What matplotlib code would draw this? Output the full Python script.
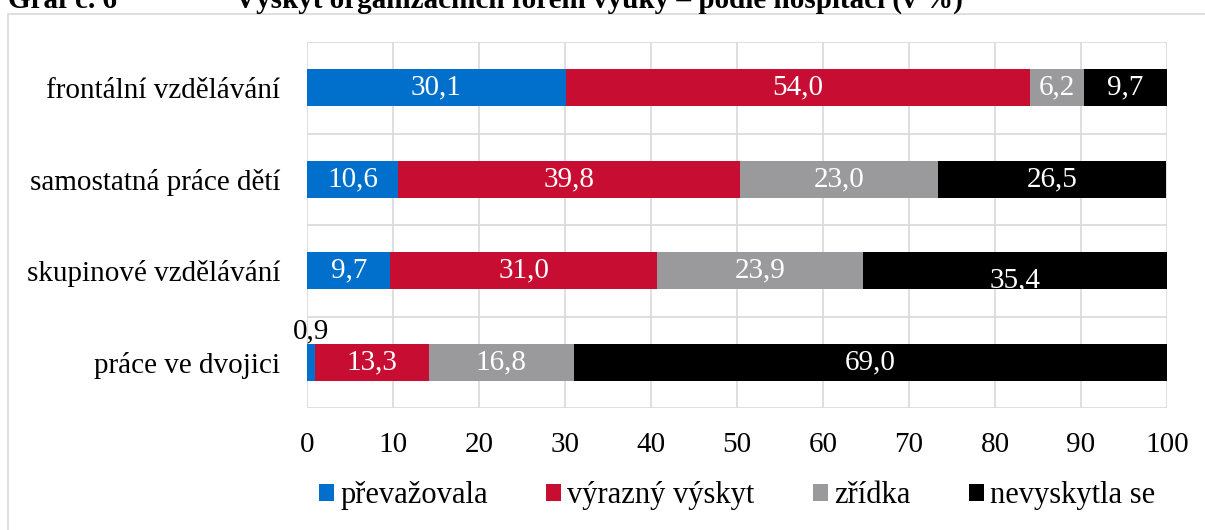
import matplotlib.pyplot as plt
from matplotlib.patches import Rectangle
import numpy as np

plt.rcParams['font.family'] = ['Liberation Serif', 'DejaVu Serif']

categories = ['frontální vzdělávání', 'samostatná práce dětí',
              'skupinové vzdělávání', 'práce ve dvojici']
series = ['převažovala', 'výrazný výskyt', 'zřídka', 'nevyskytla se']
prevazovala = [30.1, 10.6, 9.7, 0.9]
vyrazny = [54.0, 39.8, 31.0, 13.3]
zridka = [6.2, 23.0, 23.9, 16.8]
nevyskytla = [9.7, 26.5, 35.4, 69.0]
colors = ['#0070CC', '#C70E32', '#9A9A9C', '#000000']

values = [prevazovala, vyrazny, zridka, nevyskytla]
fs = 21

fig = plt.figure(figsize=(12.05, 5.3), dpi=100)
ax = fig.add_axes([307/1205, 1 - 408/530, 860/1205, 366/530])

# chart frame (cut off at right and bottom like the screenshot)
fig.patches.append(Rectangle((8/1205, -0.1), 1.2, 1 - 14/530 + 0.1,
                             transform=fig.transFigure, fill=False,
                             edgecolor='#D9D9D9', linewidth=1.2))

# half-visible title at the top edge
fig.text(8/1205, 1.0, 'Graf č. 6', fontsize=fs, fontweight='bold', va='center')
fig.text(235/1205, 1.0, 'Výskyt organizačních forem výuky – podle hospitací (v %)',
         fontsize=fs, fontweight='bold', va='center')

y = np.arange(len(categories))[::-1]
left = np.zeros(len(categories))
for i, (name, vals) in enumerate(zip(series, values)):
    vals = np.array(vals)
    ax.barh(y, vals, left=left, height=0.4, color=colors[i], label=name, zorder=3)
    for j, v in enumerate(vals):
        txt = f'{v:.1f}'.replace('.', ',')
        if v < 2:
            ax.text(left[j] + v / 2, y[j] + 0.2, txt, ha='center', va='bottom',
                    fontsize=fs, color='black')
        else:
            dy = -0.1 if (i == 3 and j == 2) else 0
            ax.text(left[j] + v / 2, y[j] + dy, txt, ha='center', va='center',
                    fontsize=fs, color='white', zorder=4)
    left += vals

ax.set_xlim(0, 100)
ax.set_ylim(-0.5, len(categories) - 0.5)
ax.set_xticks(range(0, 101, 10))
ax.set_yticks(y)
ax.set_yticklabels(categories)
ax.set_yticks(np.arange(-0.5, len(categories), 1), minor=True)
ax.tick_params(axis='both', which='both', length=0, labelsize=fs)
ax.tick_params(axis='x', pad=17)
ax.tick_params(axis='y', pad=19)
ax.grid(axis='x', color='#D9D9D9', linewidth=1.2, zorder=0)
ax.grid(axis='y', which='minor', color='#D9D9D9', linewidth=1.2, zorder=0)
for s in ax.spines.values():
    s.set_visible(False)

ax.legend(loc='center', bbox_to_anchor=(0.5, -0.24), ncol=4, frameon=False,
          fontsize=22, handlelength=0.5, handleheight=0.5, handletextpad=0.2,
          columnspacing=1.9)

fig.savefig('out.png', dpi=100)
